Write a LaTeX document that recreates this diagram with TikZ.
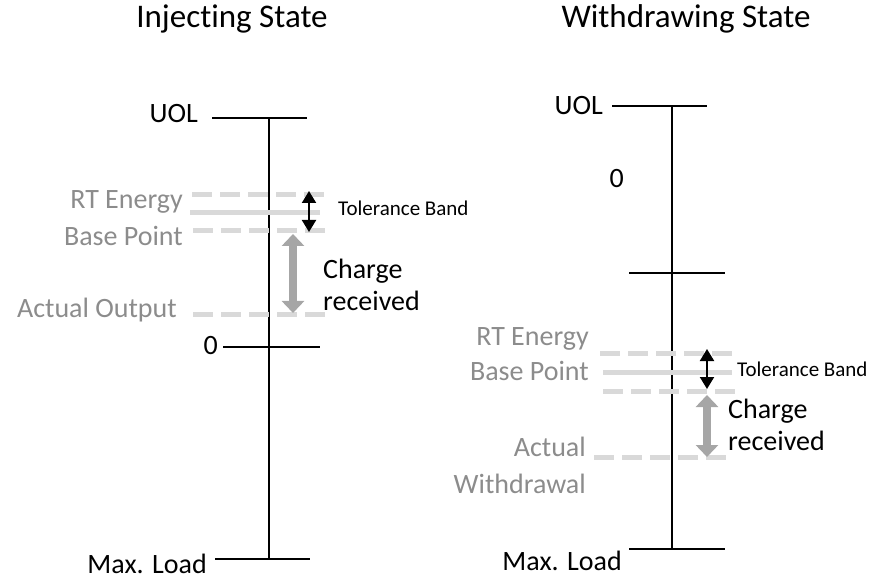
\documentclass[tikz,border=0pt]{standalone}
\usepackage{fontspec}
\setmainfont{Carlito}[Ligatures=NoCommon]
\usetikzlibrary{arrows.meta}
\definecolor{txtgray}{HTML}{8C8C8C}
\definecolor{bandgray}{HTML}{D9D9D9}
\definecolor{chggray}{HTML}{A6A6A6}

\begin{document}
\begin{tikzpicture}[x=1pt, y=-1pt, >=Stealth,
  axis/.style={line width=2pt, black},
  lbl/.style={font=\fontsize{28}{37}\selectfont, inner sep=0pt},
  graylbl/.style={lbl, text=txtgray, align=right},
  ttl/.style={font=\fontsize{33}{38}\selectfont, inner sep=0pt},
  bandline/.style={line width=5pt, bandgray, dash pattern=on 20pt off 8pt},
  baseline/.style={line width=5pt, bandgray},
  tolarrow/.style={{Triangle[length=12pt,width=14pt]}-{Triangle[length=12pt,width=14pt]}, line width=2pt},
  chgarrow/.style={{Triangle[length=12pt,width=22pt]}-{Triangle[length=12pt,width=22pt]}, line width=8pt, chggray},
  tolbl/.style={font=\fontsize{21}{25}\selectfont, inner sep=0pt, anchor=base west},
  chglbl/.style={font=\fontsize{28}{32}\selectfont, inner sep=0pt, align=left, anchor=north west}]
  \useasboundingbox (0,0) rectangle (879,580);

  % --- 左側：Injecting State ---
  \node[ttl, anchor=base] (injtitle) at (232,28) {Injecting State};
  \draw[axis] (269,118) -- (269,559);
  \node[lbl, anchor=base east] (injuol) at (198,123) {UOL};
  \draw[axis] (212,118) -- (307,118);
  \node[lbl, anchor=base east] (injzero) at (218,355) {0};
  \draw[axis] (223,347) -- (320,347);
  \node[lbl, anchor=base east] (injmax) at (207,573) {Max. Load};
  \draw[axis] (215,559) -- (310,559);
  % RT Energy Base Point
  \draw[bandline] (192,195) -- (325,195);
  \draw[baseline] (190,213) -- (320,213);
  \draw[bandline] (193,231) -- (328,231);
  \node[graylbl, anchor=base east] (injrt) at (183,209) {RT Energy};
  \node[graylbl, anchor=base east] (injbp) at (183,246) {Base Point};
  % Actual Output
  \draw[bandline] (193,315) -- (327,315);
  \node[graylbl, anchor=base east] (injact) at (177,318) {Actual Output};
  % 矢印
  \coordinate (injtoltop) at (309,191);
  \coordinate (injtolbot) at (309,232);
  \draw[tolarrow] (injtoltop) -- (injtolbot);
  \node[tolbl] (injtol) at (338,216) {Tolerance Band};
  \coordinate (injchgtop) at (293,234);
  \coordinate (injchgbot) at (293,313);
  \draw[chgarrow] (injchgtop) -- (injchgbot);
  \node[chglbl] (injchg) at (323,259) {Charge\\received};

  % --- 右側：Withdrawing State ---
  \node[ttl, anchor=base] (wdrtitle) at (686,28) {Withdrawing State};
  \draw[axis] (672,106) -- (672,549);
  \node[lbl, anchor=base east] (wdruol) at (603,115) {UOL};
  \draw[axis] (612,106) -- (707,106);
  \node[lbl, anchor=base east] (wdrzero) at (624,188) {0};
  \draw[axis] (629,273) -- (725,273);
  \node[lbl, anchor=base east] (wdrmax) at (622,570) {Max. Load};
  \draw[axis] (629,549) -- (725,549);
  % RT Energy Base Point
  \draw[bandline] (600,354) -- (733,354);
  \draw[baseline] (603,372) -- (732,372);
  \draw[bandline] (603,391) -- (737,391);
  \node[graylbl, anchor=base east] (wdrrt) at (589,345) {RT Energy};
  \node[graylbl, anchor=base east] (wdrbp) at (589,381) {Base Point};
  % Actual Withdrawal
  \draw[bandline] (594,457) -- (728,457);
  \node[graylbl, anchor=base east] (wdract) at (586,456) {Actual};
  \node[graylbl, anchor=base east] (wdrwd) at (586,493) {Withdrawal};
  % 矢印
  \coordinate (wdrtoltop) at (707,349);
  \coordinate (wdrtolbot) at (707,389);
  \draw[tolarrow] (wdrtoltop) -- (wdrtolbot);
  \node[tolbl] (wdrtol) at (737,377) {Tolerance Band};
  \coordinate (wdrchgtop) at (707,395);
  \coordinate (wdrchgbot) at (707,457);
  \draw[chgarrow] (wdrchgtop) -- (wdrchgbot);
  \node[chglbl] (wdrchg) at (728,399) {Charge\\received};
\end{tikzpicture}
\end{document}
